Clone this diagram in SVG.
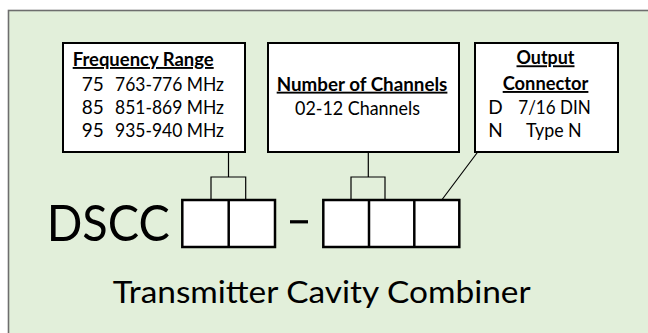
<svg xmlns="http://www.w3.org/2000/svg" width="648" height="333" viewBox="0 0 648 333">
  <style>
    text { font-family: Lato, "Open Sans", "Liberation Sans", sans-serif; fill: #000; }
    .t { font-size: 19px; }
    .h { font-size: 19px; font-weight: bold; text-decoration: underline; }
    .box { fill: #fff; stroke: #000; stroke-width: 2; }
    .code { fill: #fff; stroke: #000; stroke-width: 2.5; }
    .conn { fill: none; stroke: #000; stroke-width: 1.2; }
  </style>
  <rect x="8.5" y="10.5" width="700" height="400" fill="#E2EFDA" stroke="#6E6E6E" stroke-width="1.6"/>

  <g id="freq">
    <rect class="box" x="63" y="43" width="182" height="109"/>
    <text class="h" x="72.7" y="66" textLength="141" lengthAdjust="spacingAndGlyphs">Frequency Range</text>
    <text class="t" x="81.7" y="90.7">75</text>
    <text class="t" x="115" y="90.7" textLength="109" lengthAdjust="spacingAndGlyphs">763-776 MHz</text>
    <text class="t" x="81.7" y="114">85</text>
    <text class="t" x="115" y="114" textLength="109" lengthAdjust="spacingAndGlyphs">851-869 MHz</text>
    <text class="t" x="81.7" y="137.3">95</text>
    <text class="t" x="115" y="137.3" textLength="109" lengthAdjust="spacingAndGlyphs">935-940 MHz</text>
  </g>

  <g id="channels">
    <rect class="box" x="268" y="43" width="191" height="109"/>
    <text class="h" x="276.7" y="90.7" textLength="170.7" lengthAdjust="spacingAndGlyphs">Number of Channels</text>
    <text class="t" x="295" y="115" textLength="125" lengthAdjust="spacingAndGlyphs">02-12 Channels</text>
  </g>

  <g id="output">
    <rect class="box" x="475" y="43" width="143" height="109"/>
    <text class="h" x="516.5" y="64.3" textLength="58" lengthAdjust="spacingAndGlyphs">Output</text>
    <text class="h" x="502.7" y="90" textLength="85.7" lengthAdjust="spacingAndGlyphs">Connector</text>
    <text class="t" x="488.3" y="114">D</text>
    <text class="t" x="518.3" y="114" textLength="72.4" lengthAdjust="spacingAndGlyphs">7/16 DIN</text>
    <text class="t" x="488.3" y="137.3">N</text>
    <text class="t" x="526" y="137.3" textLength="55.7" lengthAdjust="spacingAndGlyphs">Type N</text>
  </g>

  <g id="code">
    <text x="46.7" y="241" font-size="50" textLength="123" lengthAdjust="spacingAndGlyphs">DSCC</text>
    <rect class="code" x="182.3" y="200" width="92.7" height="47"/>
    <line class="code" x1="228.7" y1="200" x2="228.7" y2="247"/>
    <rect x="290" y="220.2" width="18" height="3.2" fill="#000"/>
    <rect class="code" x="323.3" y="200" width="136" height="47"/>
    <line class="code" x1="369" y1="200" x2="369" y2="247"/>
    <line class="code" x1="414.3" y1="200" x2="414.3" y2="247"/>
  </g>

  <g id="connectors">
    <line class="conn" x1="228.5" y1="152" x2="228.5" y2="177"/>
    <path class="conn" d="M211,200 V177 H245.7 V200"/>
    <line class="conn" x1="368.3" y1="152" x2="368.3" y2="177"/>
    <path class="conn" d="M351,200 V177 H385 V200"/>
    <line class="conn" x1="477.7" y1="152" x2="441.7" y2="200"/>
  </g>

  <text x="112.7" y="303.3" font-size="30" textLength="418" lengthAdjust="spacingAndGlyphs">Transmitter Cavity Combiner</text>
</svg>
